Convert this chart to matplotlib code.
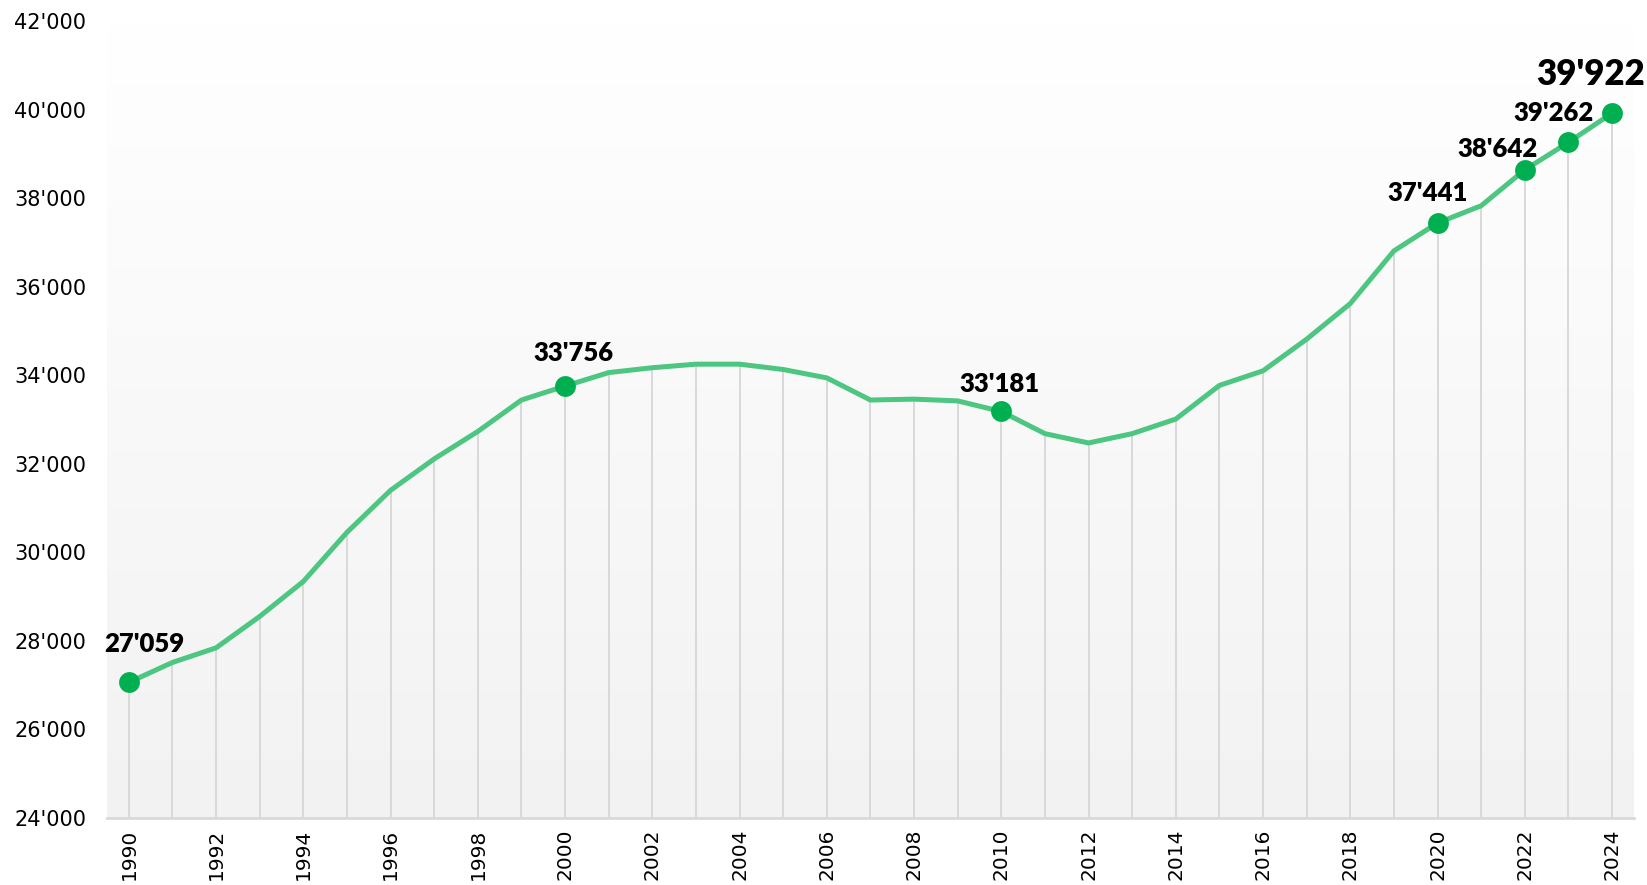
import matplotlib
matplotlib.use("Agg")
import matplotlib.pyplot as plt
import numpy as np
from matplotlib.colors import LinearSegmentedColormap

# ---- data ----
years = list(range(1990, 2025))
values = [27059, 27510, 27840, 28550, 29340, 30450, 31400, 32110, 32730, 33440,
          33756, 34060, 34170, 34250, 34250, 34130, 33940, 33440, 33460, 33420,
          33181, 32680, 32470, 32680, 33010, 33770, 34100, 34815, 35620, 36810,
          37441, 37830, 38642, 39262, 39922]
highlight_years = [1990, 2000, 2010, 2020, 2022, 2023, 2024]
x_tick_labels = [str(y) for y in range(1990, 2025, 2)]
y_ticks = list(range(24000, 42001, 2000))

def fmt(v):
    return f"{v:,}".replace(",", "'")

fig = plt.figure(figsize=(16.47, 8.85), dpi=100)
ax = fig.add_axes([0.065, 0.076, 0.927, 0.900])

xmin, xmax = 1989.5, 2024.5
ymin, ymax = 24000, 42000
ax.set_xlim(xmin, xmax)
ax.set_ylim(ymin, ymax)

# gradient background (white at top, light grey at bottom)
cmap = LinearSegmentedColormap.from_list("bg", ["#F2F2F2", "#FFFFFF"])
ax.imshow(np.linspace(0.0, 1.0, 256).reshape(-1, 1),
          extent=[xmin, xmax, ymin, ymax], aspect="auto", cmap=cmap,
          origin="lower", zorder=0, interpolation="bicubic")

# drop lines
ax.vlines(years, ymin, values, colors="#D9D9D9", linewidth=1.4, zorder=1)

# line
ax.plot(years, values, color="#4CC680", linewidth=3.6, zorder=2,
        solid_joinstyle="round")

# highlighted markers & labels
offsets = {1990: (16, 38), 2000: (8, 33), 2010: (-2, 27), 2020: (-10, 30),
           2022: (-27, 21), 2023: (-15, 29), 2024: (-21, 39)}
for yr in highlight_years:
    v = values[years.index(yr)]
    ax.plot([yr], [v], marker="o", markersize=15, color="#00B050",
            markeredgewidth=0, zorder=3)
    size = 25 if yr == 2024 else 18.5
    ax.annotate(fmt(v), (yr, v), xytext=offsets[yr], textcoords="offset pixels",
                ha="center", va="center", fontsize=size, fontweight="heavy",
                family="Lato", color="#000000", zorder=4)

# axes styling
for s in ["left", "right", "top"]:
    ax.spines[s].set_visible(False)
ax.spines["bottom"].set_color("#D9D9D9")
ax.spines["bottom"].set_linewidth(2)
ax.spines["bottom"].set_zorder(5)

ax.set_yticks(y_ticks)
ax.set_yticklabels([fmt(t) for t in y_ticks])
ax.set_xticks(list(range(1990, 2025, 2)))
ax.set_xticklabels(x_tick_labels, rotation=90)
ax.tick_params(axis="y", length=0, pad=15, labelsize=15, labelcolor="#000000")
ax.tick_params(axis="x", length=0, pad=8, labelsize=14.5, labelcolor="#000000")

fig.savefig("out.png", dpi=100, facecolor="white")
